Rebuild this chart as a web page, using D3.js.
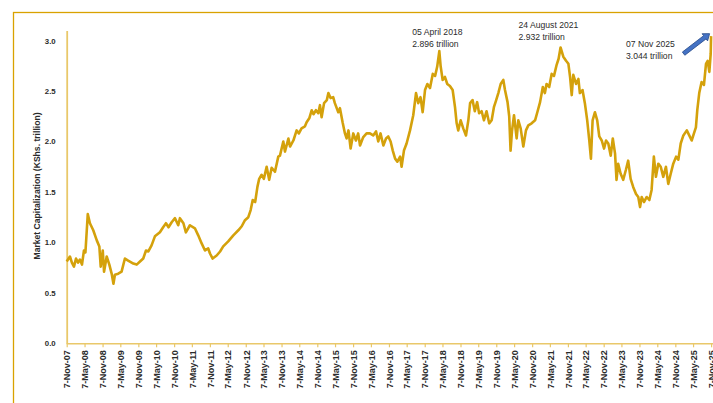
<!DOCTYPE html>
<html><head><meta charset="utf-8">
<script src="https://cdn.jsdelivr.net/npm/d3@7"></script>
<style>html,body{margin:0;padding:0;background:#fff;overflow:hidden}svg{display:block}</style>
</head><body><svg id="chart" width="713" height="403"></svg>
<script>
// ---- DATA ----
const dates = ["2007-11-07","2007-12-10","2007-12-30","2008-01-20","2008-02-10","2008-03-02","2008-03-21","2008-04-11","2008-05-01","2008-05-16","2008-06-09","2008-07-01","2008-08-04","2008-09-09","2008-10-05","2008-10-19","2008-11-09","2008-11-22","2008-12-19","2009-01-15","2009-02-10","2009-02-26","2009-03-13","2009-04-16","2009-05-20","2009-06-23","2009-07-26","2009-09-17","2009-10-21","2009-11-24","2009-12-27","2010-01-24","2010-02-17","2010-03-22","2010-04-25","2010-06-15","2010-07-18","2010-08-16","2010-09-11","2010-10-13","2010-11-16","2010-12-19","2011-01-05","2011-02-10","2011-03-07","2011-04-17","2011-06-07","2011-07-11","2011-08-15","2011-09-18","2011-10-21","2011-11-08","2011-12-05","2012-01-15","2012-02-19","2012-03-22","2012-05-12","2012-07-03","2012-08-23","2012-09-27","2012-10-30","2012-12-03","2012-12-27","2013-01-17","2013-02-11","2013-03-06","2013-03-24","2013-04-18","2013-05-11","2013-06-08","2013-07-04","2013-07-29","2013-09-01","2013-10-05","2013-10-22","2013-11-25","2013-12-12","2014-01-16","2014-02-02","2014-03-08","2014-04-10","2014-05-03","2014-05-30","2014-07-04","2014-07-21","2014-08-17","2014-09-11","2014-09-29","2014-10-24","2014-11-17","2014-12-04","2014-12-21","2015-01-15","2015-02-12","2015-02-28","2015-03-22","2015-04-18","2015-05-05","2015-06-09","2015-06-26","2015-07-23","2015-08-16","2015-09-02","2015-09-21","2015-10-13","2015-11-09","2015-12-06","2015-12-29","2016-01-17","2016-02-17","2016-03-24","2016-04-27","2016-05-30","2016-06-28","2016-07-21","2016-08-13","2016-09-11","2016-10-08","2016-10-31","2016-11-24","2016-12-16","2017-01-09","2017-02-01","2017-03-01","2017-03-16","2017-04-09","2017-05-06","2017-06-10","2017-07-13","2017-08-10","2017-09-02","2017-09-25","2017-10-17","2017-11-10","2017-12-04","2017-12-31","2018-01-28","2018-02-21","2018-03-14","2018-04-05","2018-04-18","2018-05-09","2018-06-01","2018-06-25","2018-07-22","2018-08-19","2018-09-12","2018-09-29","2018-10-15","2018-11-09","2018-12-05","2019-01-02","2019-01-26","2019-02-13","2019-03-10","2019-04-02","2019-04-26","2019-05-16","2019-06-11","2019-07-04","2019-07-31","2019-08-27","2019-09-21","2019-10-14","2019-11-03","2019-11-28","2019-12-22","2020-01-18","2020-02-04","2020-03-01","2020-03-18","2020-04-01","2020-04-15","2020-05-06","2020-06-02","2020-06-19","2020-07-13","2020-08-09","2020-09-05","2020-09-29","2020-11-02","2020-12-07","2020-12-30","2021-01-27","2021-02-24","2021-03-17","2021-04-03","2021-04-30","2021-05-25","2021-06-18","2021-07-15","2021-08-04","2021-08-24","2021-09-21","2021-10-19","2021-11-12","2021-11-29","2021-12-16","2022-01-01","2022-01-29","2022-02-22","2022-03-09","2022-04-05","2022-04-29","2022-05-23","2022-06-13","2022-06-30","2022-07-17","2022-08-10","2022-09-02","2022-09-23","2022-10-18","2022-11-11","2022-12-01","2022-12-24","2023-01-18","2023-02-08","2023-03-03","2023-03-18","2023-04-04","2023-04-29","2023-05-25","2023-06-22","2023-07-15","2023-08-09","2023-09-04","2023-10-03","2023-10-26","2023-11-13","2023-11-30","2023-12-23","2024-01-20","2024-02-16","2024-03-10","2024-04-02","2024-04-23","2024-05-17","2024-06-11","2024-07-07","2024-08-03","2024-08-27","2024-09-21","2024-10-17","2024-11-15","2024-12-08","2025-01-01","2025-01-28","2025-03-04","2025-03-29","2025-04-23","2025-05-16","2025-06-05","2025-06-19","2025-07-09","2025-08-02","2025-08-26","2025-09-16","2025-10-03","2025-10-20","2025-11-03","2025-11-07"];

const values = [0.81,0.86,0.80,0.76,0.84,0.80,0.83,0.78,0.92,0.90,1.28,1.19,1.12,1.02,0.96,0.76,0.92,0.71,0.86,0.78,0.68,0.59,0.68,0.69,0.71,0.84,0.82,0.79,0.78,0.81,0.84,0.92,0.91,0.97,1.06,1.10,1.15,1.19,1.15,1.20,1.24,1.17,1.24,1.19,1.10,1.17,1.14,1.07,0.99,0.92,0.94,0.89,0.84,0.87,0.91,0.96,1.01,1.07,1.12,1.16,1.22,1.25,1.32,1.42,1.40,1.55,1.63,1.67,1.63,1.75,1.62,1.74,1.70,1.85,1.86,2.00,1.90,2.03,1.95,2.01,2.11,2.08,2.13,2.15,2.19,2.23,2.31,2.27,2.31,2.28,2.36,2.24,2.38,2.41,2.48,2.43,2.44,2.38,2.29,2.33,2.19,2.08,2.03,2.11,1.93,2.08,2.01,2.08,1.96,2.04,2.08,2.08,2.06,2.10,2.00,2.08,1.96,2.03,2.05,2.00,1.91,1.83,1.80,1.85,1.75,1.91,1.98,2.11,2.26,2.48,2.38,2.44,2.29,2.51,2.57,2.53,2.67,2.65,2.74,2.896,2.75,2.61,2.64,2.57,2.55,2.51,2.34,2.18,2.11,2.21,2.13,2.06,2.21,2.38,2.41,2.30,2.39,2.28,2.30,2.21,2.30,2.18,2.21,2.34,2.40,2.48,2.57,2.61,2.51,2.39,2.25,1.91,2.10,2.26,2.03,2.21,2.13,1.95,2.11,2.16,2.18,2.21,2.29,2.39,2.54,2.48,2.57,2.54,2.67,2.65,2.76,2.82,2.932,2.84,2.80,2.77,2.64,2.46,2.66,2.57,2.62,2.48,2.51,2.38,2.21,2.01,1.83,2.21,2.29,2.21,2.05,2.01,1.93,2.01,1.98,1.86,2.03,1.88,1.62,1.78,1.68,1.62,1.72,1.81,1.63,1.55,1.48,1.45,1.35,1.45,1.40,1.45,1.42,1.52,1.85,1.65,1.78,1.75,1.65,1.75,1.58,1.68,1.78,1.85,1.82,1.98,2.06,2.11,2.06,2.01,2.08,2.14,2.31,2.48,2.59,2.56,2.77,2.80,2.69,2.87,3.044];

const yTicks = [0, 0.5, 1.0, 1.5, 2.0, 2.5, 3.0];
const xTickLabels = ["7-Nov-07","7-May-08","7-Nov-08","7-May-09","7-Nov-09","7-May-10","7-Nov-10","7-May-11","7-Nov-11","7-May-12","7-Nov-12","7-May-13","7-Nov-13","7-May-14","7-Nov-14","7-May-15","7-Nov-15","7-May-16","7-Nov-16","7-May-17","7-Nov-17","7-May-18","7-Nov-18","7-May-19","7-Nov-19","7-May-20","7-Nov-20","7-May-21","7-Nov-21","7-May-22","7-Nov-22","7-May-23","7-Nov-23","7-May-24","7-Nov-24","7-May-25","7-Nov-25"];
const annoDates = ["2018-04-05", "2021-08-24", "2025-11-07"];
const annoValues = [2.896, 2.932, 3.044];
const annoLine1 = ["05 April 2018", "24 August 2021", "07 Nov 2025"];
const annoLine2 = ["2.896 trillion", "2.932 trillion", "3.044 trillion"];
const yTitle = "Market Capitalization (KShs. trillion)";

// ---- DRAW ----
(function () {
const svg = d3.select("#chart");
const parse = d3.timeParse("%Y-%m-%d");
const parseTick = d3.timeParse("%d-%b-%y");
const data = dates.map((d, i) => ({date: parse(d), value: values[i]}));

const mLeft = 66.7, mRight = 711.1, mBottom = 343.3, mTop = 30.5;
const x = d3.scaleTime().domain([parse("2007-11-07"), parse("2025-11-07")]).range([mLeft, mRight]);
const y = d3.scaleLinear().domain([0, 3.1]).range([mBottom, mTop]);

const axisCol = "#e9c86a", lineCol = "#d4a10b", textCol = "#2b2b2b";
const font = "'Liberation Sans', Arial, sans-serif";

svg.append("rect").attr("width", 713).attr("height", 403).attr("fill", "#fff");
svg.append("rect").attr("x", 13.5).attr("y", 12.5).attr("width", 800).attr("height", 500)
  .attr("fill", "none").attr("stroke", "#d9a200").attr("stroke-width", 1.3);

const xAxis = d3.axisBottom(x)
  .tickValues(xTickLabels.map(t => parseTick(t)))
  .tickFormat((d, i) => xTickLabels[i])
  .tickSize(4).tickSizeOuter(0);
const gx = svg.append("g").attr("transform", `translate(0,${mBottom})`).call(xAxis);
gx.select(".domain").attr("d", `M${mLeft},0.5H713`).attr("stroke", axisCol).attr("stroke-width", 1.6);
gx.selectAll(".tick line").attr("stroke", axisCol).attr("stroke-width", 1.2);
gx.selectAll(".tick text")
  .attr("transform", "rotate(-90)")
  .attr("text-anchor", "end")
  .attr("x", -7).attr("y", 0).attr("dy", "0.36em")
  .attr("fill", textCol)
  .style("font", `bold 9px ${font}`);

const yAxis = d3.axisLeft(y).tickValues(yTicks).tickFormat(d3.format(".1f")).tickSize(0).tickPadding(11);
const gy = svg.append("g").attr("transform", `translate(${mLeft},0)`).call(yAxis);
gy.select(".domain").attr("stroke", axisCol).attr("stroke-width", 1.8);
gy.selectAll(".tick text").attr("fill", textCol).style("font", `bold 7.8px ${font}`);

svg.append("text")
  .attr("transform", `translate(40,186) rotate(-90)`)
  .attr("text-anchor", "middle")
  .attr("fill", textCol)
  .style("font", `bold 8.6px ${font}`)
  .text(yTitle);

const line = d3.line().x(d => x(d.date)).y(d => y(d.value));
svg.append("path").datum(data)
  .attr("fill", "none").attr("stroke", lineCol).attr("stroke-width", 2.6)
  .attr("stroke-linejoin", "round").attr("d", line);

const offs = [[-27, -16], [-42, -19], [-85, 11]];
annoDates.forEach((d, i) => {
  const px = x(parse(d)), py = y(annoValues[i]);
  const t = svg.append("text").attr("fill", textCol).style("font", `8.6px ${font}`);
  t.append("tspan").attr("x", px + offs[i][0]).attr("y", py + offs[i][1]).text(annoLine1[i]);
  t.append("tspan").attr("x", px + offs[i][0]).attr("y", py + offs[i][1] + 12).text(annoLine2[i]);
});

const tipX = x(parse(annoDates[2])) - 1.5, tipY = y(annoValues[2]) - 2.5;
const tailX = tipX - 26, tailY = tipY + 20;
const L = Math.hypot(tipX - tailX, tipY - tailY);
const ang = Math.atan2(tipY - tailY, tipX - tailX) * 180 / Math.PI;
const hl = 6, sw = 2, hw = 4.5;
svg.append("path")
  .attr("transform", `translate(${tailX},${tailY}) rotate(${ang})`)
  .attr("d", `M0,${-sw}L${L - hl},${-sw}L${L - hl},${-hw}L${L},0L${L - hl},${hw}L${L - hl},${sw}L0,${sw}Z`)
  .attr("fill", "#4472c4").attr("stroke", "#2f528f").attr("stroke-width", 0.8);
})();
</script></body></html>
